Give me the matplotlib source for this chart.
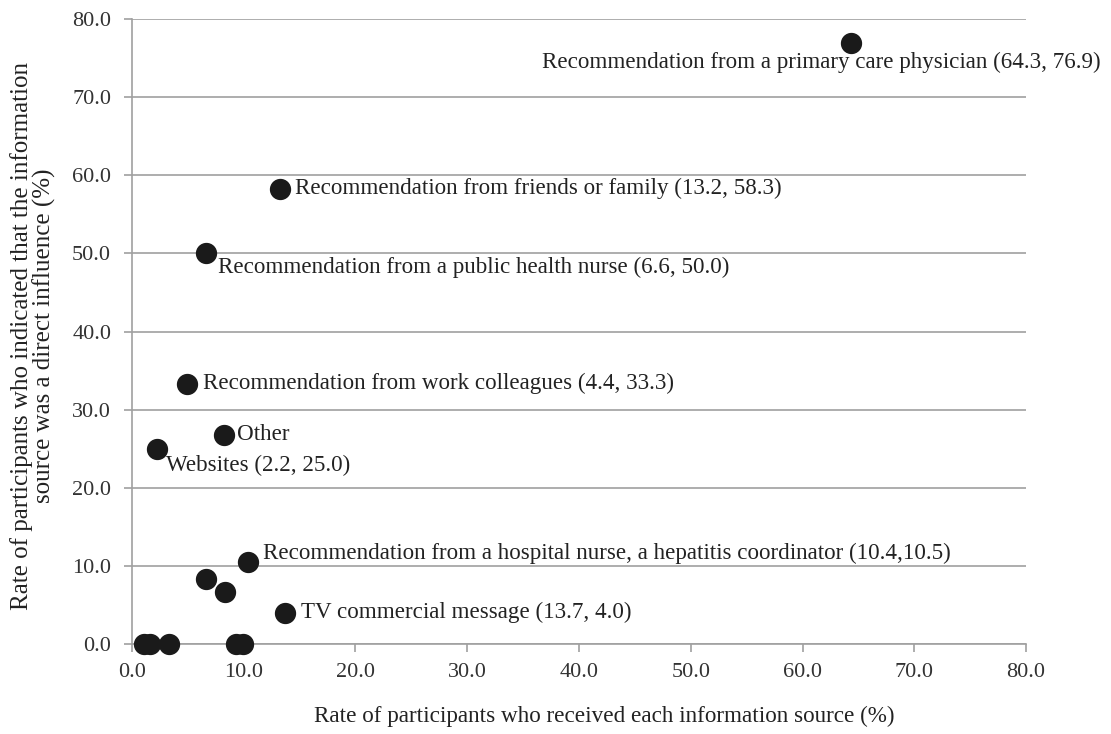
import matplotlib
matplotlib.use("Agg")
import matplotlib.pyplot as plt

plt.rcParams['font.family'] = ['Liberation Serif', 'DejaVu Serif']

x_vals = [64.3, 13.2, 6.6, 4.9, 8.2, 2.2, 10.4, 13.7, 6.6, 8.3, 1.1, 1.6, 3.3, 9.3, 9.9]
y_vals = [76.9, 58.3, 50.0, 33.3, 26.8, 25.0, 10.5, 4.0, 8.3, 6.7, 0.0, 0.0, 0.0, 0.0, 0.0]
labels = [
    "Recommendation from a primary care physician (64.3, 76.9)",
    "Recommendation from friends or family (13.2, 58.3)",
    "Recommendation from a public health nurse (6.6, 50.0)",
    "Recommendation from work colleagues (4.4, 33.3)",
    "Other",
    "Websites (2.2, 25.0)",
    "Recommendation from a hospital nurse, a hepatitis coordinator (10.4,10.5)",
    "TV commercial message (13.7, 4.0)",
]
# label offsets (points) and alignment
offsets = [(-222, -13.5, 'left'), (11.5, 0, 'left'), (8.6, -10, 'left'), (11.5, 0, 'left'),
           (9.4, 0, 'left'), (7, -12, 'left'), (11, 6, 'left'), (11.5, 0, 'left')]

xticks = [0, 10, 20, 30, 40, 50, 60, 70, 80]
yticks = [0, 10, 20, 30, 40, 50, 60, 70, 80]

fig = plt.figure(figsize=(11.11, 7.34), dpi=100)
ax = fig.add_axes([0.1188, 0.1226, 0.8047, 0.8515])

ax.scatter(x_vals, y_vals, s=205, color='#1a1a1a', zorder=3, clip_on=False)

for i, lab in enumerate(labels):
    dx, dy, ha = offsets[i]
    ax.annotate(lab, (x_vals[i], y_vals[i]), xytext=(dx, dy), textcoords='offset points',
                ha=ha, va='center', fontsize=16.6, color='#222222')

ax.set_xlim(0, 80)
ax.set_ylim(0, 80)
ax.set_xticks(xticks)
ax.set_yticks(yticks)
ax.set_xticklabels([f"{v:.1f}" for v in xticks], fontsize=16, color='#333333')
ax.set_yticklabels([f"{v:.1f}" for v in yticks], fontsize=16, color='#333333')
ax.yaxis.grid(True, color='#a0a0a0', linewidth=1.2)
ax.set_axisbelow(True)
for s in ['top', 'right']:
    ax.spines[s].set_visible(False)
for s in ['left', 'bottom']:
    ax.spines[s].set_color('#a0a0a0')
    ax.spines[s].set_linewidth(1.2)
ax.tick_params(axis='both', direction='out', length=6, color='#a0a0a0', width=1.2)
ax.tick_params(axis='x', pad=8)
ax.tick_params(axis='y', pad=9)

ax.set_xlabel("Rate of participants who received each information source (%)", fontsize=16.7,
              color='#222222')
ax.xaxis.set_label_coords(0.528, -0.116)
ax.xaxis.label.set_va('center')

ax.set_ylabel("Rate of participants who indicated that the information\nsource was a direct influence (%)",
              fontsize=18, color='#222222', linespacing=1.0)
ax.yaxis.set_label_coords(-0.1105, 0.493)
ax.yaxis.label.set_va('center')

fig.savefig("out.png", dpi=100)
